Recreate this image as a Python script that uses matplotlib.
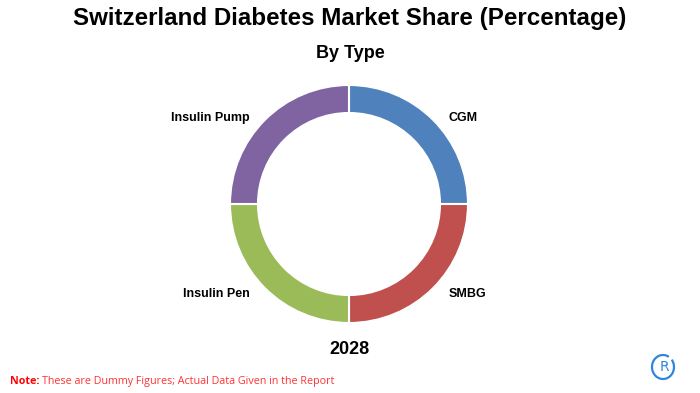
import numpy as np
import matplotlib.pyplot as plt
from matplotlib.patches import Arc

# chart data
segments = ["CGM", "SMBG", "Insulin Pen", "Insulin Pump"]
shares = [25, 25, 25, 25]
colors = ["#4F81BD", "#C0504D", "#9BBB59", "#8064A2"]
year_label = "2028"

W, H = 700, 393
fig = plt.figure(figsize=(7, 3.93), dpi=100)
ax = fig.add_axes([0, 0, 1, 1])

cx, cy, r = 349, H - 204, 119
wedges, _ = ax.pie(shares, colors=colors, startangle=90, counterclock=False,
                   center=(cx, cy), radius=r,
                   wedgeprops=dict(width=28, edgecolor="white", linewidth=1.5))
ax.set_xlim(0, W)
ax.set_ylim(0, H)
ax.set_aspect("equal")
ax.axis("off")

# category labels, outside each wedge
for w, name in zip(wedges, segments):
    mid = np.deg2rad((w.theta1 + w.theta2) / 2)
    x = cx + 141 * np.cos(mid)
    y = cy + 125 * np.sin(mid) - 2
    ha = "left" if np.cos(mid) > 0 else "right"
    ax.text(x, y, name, ha=ha, va="center", fontsize=9, fontweight="bold",
            family="Liberation Sans")

ax.text(W / 2, H - 19, "Switzerland Diabetes Market Share (Percentage)",
        ha="center", va="center", fontsize=17.4, fontweight="bold", family="Liberation Sans")
ax.text(W / 2, H - 53, "By Type", ha="center", va="center", fontsize=13,
        fontweight="bold", family="Liberation Sans")
ax.text(cx, H - 350, year_label, ha="center", va="center", fontsize=13,
        fontweight="bold", family="Liberation Sans")

# note at the bottom
t = ax.text(10, H - 384, "Note:", ha="left", va="baseline", fontsize=7.75,
            fontweight="bold", color="#FF0000", family="Open Sans")
fig.canvas.draw()
bb = t.get_window_extent()
ax.text(bb.x1 + 3, H - 384, "These are Dummy Figures; Actual Data Given in the Report",
        ha="left", va="baseline", fontsize=7.75, color="#FF3333", family="Open Sans")

# small logo
ax.add_patch(Arc((663, H - 367), 22, 24, theta1=60, theta2=400, color="#2E86DE", lw=1.6))
ax.text(664, H - 367, "R", ha="center", va="center", fontsize=10, color="#2E86DE",
        family="DejaVu Sans")

fig.savefig("out.png", dpi=100)
